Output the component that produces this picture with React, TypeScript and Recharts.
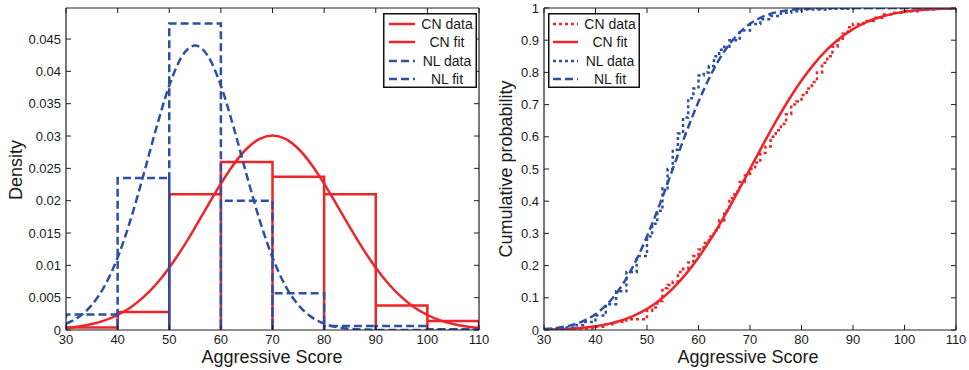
import React from "react";
import { LineChart, Line, XAxis, YAxis, Legend } from "recharts";

const RED = "#EE2428";
const BLUE = "#2D4FA3";
const AX = "#1e1e1e";
const TXT = "#1a1a1a";
const FONT = "'Liberation Sans', Arial, Helvetica, sans-serif";

// histogram bins (Aggressive Score)
const binEdges = [30, 40, 50, 60, 70, 80, 90, 100, 110];
const cnHist = [0.0004, 0.0028, 0.021, 0.026, 0.0237, 0.021, 0.0038, 0.0014];
const nlHist = [0.0024, 0.0235, 0.0474, 0.02, 0.0057, 0.0006, 0.0006, 0.0001];

// fitted curves, read every 2.5 points
const fitX = [
  30, 32.5, 35, 37.5, 40, 42.5, 45, 47.5, 50, 52.5, 55, 57.5, 60, 62.5, 65, 67.5, 70,
  72.5, 75, 77.5, 80, 82.5, 85, 87.5, 90, 92.5, 95, 97.5, 100, 102.5, 105, 107.5, 110,
];
const cnPdf = [
  0.00032, 0.00055, 0.00092, 0.00149, 0.00232, 0.00349, 0.00508, 0.00712, 0.00964, 0.01258,
  0.01586, 0.01929, 0.02264, 0.02565, 0.02803, 0.02957, 0.0301, 0.02957, 0.02803, 0.02565,
  0.02264, 0.01929, 0.01586, 0.01258, 0.00964, 0.00712, 0.00508, 0.00349, 0.00232, 0.00149,
  0.00092, 0.00055, 0.00032,
];
const nlPdf = [
  0.00099, 0.00203, 0.00387, 0.00684, 0.01121, 0.01702, 0.02396, 0.03126, 0.0378, 0.04236,
  0.044, 0.04236, 0.0378, 0.03126, 0.02396, 0.01702, 0.01121, 0.00684, 0.00387, 0.00203,
  0.00099, 0.00044, 0.00019, 0.00007, 0.00002, 0, 0, 0, 0, 0, 0, 0, 0,
];
const cnCdf = [
  0.0013, 0.0023, 0.0041, 0.0071, 0.0118, 0.019, 0.0296, 0.0448, 0.0656, 0.0933, 0.1288,
  0.1728, 0.2252, 0.2857, 0.353, 0.4251, 0.5, 0.5749, 0.647, 0.7143, 0.7748, 0.8272, 0.8712,
  0.9067, 0.9344, 0.9552, 0.9704, 0.981, 0.9882, 0.9929, 0.9959, 0.9977, 0.9987,
];
const nlCdf = [
  0.0029, 0.0066, 0.0137, 0.0269, 0.0491, 0.0841, 0.135, 0.2041, 0.2908, 0.3913, 0.5, 0.6087,
  0.7092, 0.7959, 0.865, 0.9159, 0.9509, 0.9731, 0.9863, 0.9935, 0.9971, 0.9988, 0.9996,
  0.9999, 1, 1, 1, 1, 1, 1, 1, 1, 1,
];

// empirical cdfs
const cnEcdfX = [
  30, 36, 40, 42, 44, 46, 50, 51, 52, 53, 54, 55, 56, 57, 58, 59, 60, 61, 62, 63, 64, 65, 66,
  67, 68, 69, 70, 71, 72, 73, 74, 75, 76, 77, 78, 79, 80, 81, 82, 83, 84, 85, 86, 87, 88, 89,
  90, 92, 94, 96, 98, 100, 103, 106, 110,
];
const cnEcdf = [
  0.002, 0.005, 0.01, 0.018, 0.025, 0.033, 0.06, 0.07, 0.09, 0.13, 0.14, 0.15, 0.18, 0.19,
  0.21, 0.23, 0.25, 0.27, 0.29, 0.31, 0.34, 0.37, 0.41, 0.43, 0.46, 0.48, 0.5, 0.52, 0.55,
  0.57, 0.6, 0.62, 0.64, 0.67, 0.7, 0.71, 0.73, 0.75, 0.77, 0.8, 0.83, 0.85, 0.88, 0.9, 0.92,
  0.94, 0.95, 0.96, 0.97, 0.98, 0.985, 0.99, 0.995, 0.998, 1,
];
const nlEcdfX = [
  30, 32, 34, 36, 38, 40, 42, 44, 46, 48, 50, 51, 52, 53, 54, 55, 56, 57, 58, 59, 60, 61, 62,
  63, 64, 65, 66, 68, 70, 72, 74, 76, 78, 80, 85, 90, 110,
];
const nlEcdf = [
  0, 0.003, 0.008, 0.015, 0.025, 0.045, 0.08, 0.12, 0.18, 0.23, 0.29, 0.33, 0.37, 0.44, 0.5,
  0.56, 0.61, 0.66, 0.72, 0.75, 0.79, 0.8, 0.82, 0.85, 0.87, 0.88, 0.9, 0.93, 0.95, 0.965,
  0.975, 0.985, 0.99, 0.995, 0.998, 1, 1,
];

const xTicks = [30, 40, 50, 60, 70, 80, 90, 100, 110];
const densityTicks = [0, 0.005, 0.01, 0.015, 0.02, 0.025, 0.03, 0.035, 0.04, 0.045];
const probTicks = [0, 0.1, 0.2, 0.3, 0.4, 0.5, 0.6, 0.7, 0.8, 0.9, 1];

const toPoints = (xs: number[], ys: number[]) => xs.map((x, i) => ({ x, y: ys[i] }));

// outline of each histogram bar as one polyline
function histOutline(edges: number[], heights: number[]) {
  const pts: { x: number; y: number }[] = [];
  heights.forEach((h, i) => {
    pts.push({ x: edges[i], y: 0 }, { x: edges[i], y: h }, { x: edges[i + 1], y: h }, { x: edges[i + 1], y: 0 });
  });
  return pts;
}

const DASH = "8 4";
const DOT = "3 3";

function frame(yDomain: number[], yTicks: number[], yWidth: number) {
  const tick = { fill: TXT, fontSize: 13, fontFamily: FONT };
  const blank = () => "";
  return [
    <XAxis key="x" xAxisId="x" type="number" dataKey="x" domain={[30, 110]} ticks={xTicks} interval={0}
      allowDataOverflow height={40} tickSize={0} tickMargin={5} tickLine={false}
      axisLine={{ stroke: AX, strokeWidth: 1.2 }} tick={tick} />,
    <XAxis key="xb" xAxisId="xb" type="number" dataKey="x" domain={[30, 110]} ticks={xTicks} interval={0}
      allowDataOverflow mirror tickSize={5} axisLine={false} tickLine={{ stroke: AX }} tickFormatter={blank} />,
    <XAxis key="xt" xAxisId="xt" orientation="top" type="number" dataKey="x" domain={[30, 110]} ticks={xTicks}
      interval={0} allowDataOverflow mirror tickSize={5} axisLine={{ stroke: AX, strokeWidth: 1.2 }}
      tickLine={{ stroke: AX }} tickFormatter={blank} />,
    <YAxis key="y" yAxisId="y" type="number" domain={yDomain} ticks={yTicks} interval={0} allowDataOverflow
      width={yWidth} tickSize={0} tickMargin={5} tickLine={false} axisLine={{ stroke: AX, strokeWidth: 1.2 }}
      tick={tick} />,
    <YAxis key="yl" yAxisId="yl" type="number" domain={yDomain} ticks={yTicks} interval={0} allowDataOverflow
      mirror tickSize={5} axisLine={false} tickLine={{ stroke: AX }} tickFormatter={blank} />,
    <YAxis key="yr" yAxisId="yr" orientation="right" type="number" domain={yDomain} ticks={yTicks} interval={0}
      allowDataOverflow mirror tickSize={5} axisLine={{ stroke: AX, strokeWidth: 1.2 }}
      tickLine={{ stroke: AX }} tickFormatter={blank} />,
  ];
}

type Item = { name: string; color: string; dash?: string };

function LegendBox({ items, width, sample }: { items: Item[]; width: number; sample: [number, number] }) {
  const rows = [11, 29, 48, 66];
  return (
    <svg width={width} height={75} style={{ display: "block" }}>
      <rect x={0.75} y={0.75} width={width - 1.5} height={73.5} fill="#fff" stroke="#111" strokeWidth={1.5} />
      {items.map((it, i) => (
        <g key={it.name}>
          <line x1={sample[0]} x2={sample[1]} y1={rows[i]} y2={rows[i]} stroke={it.color} strokeWidth={2.5}
            strokeDasharray={it.dash} />
          <text x={(sample[1] + width) / 2 + 1} y={rows[i]} dy="0.36em" textAnchor="middle" fontSize={14}
            fontFamily={FONT} fill={TXT}>
            {it.name}
          </text>
        </g>
      ))}
    </svg>
  );
}

const pdfLegend: Item[] = [
  { name: "CN data", color: RED },
  { name: "CN fit", color: RED },
  { name: "NL data", color: BLUE, dash: DASH },
  { name: "NL fit", color: BLUE, dash: DASH },
];
const cdfLegend: Item[] = [
  { name: "CN data", color: RED, dash: DOT },
  { name: "CN fit", color: RED },
  { name: "NL data", color: BLUE, dash: DOT },
  { name: "NL fit", color: BLUE, dash: DASH },
];

const lineProps = { xAxisId: "x", yAxisId: "y", dataKey: "y", dot: false, activeDot: false, isAnimationActive: false, strokeWidth: 2.5 } as const;

export default function App() {
  return (
    <div style={{ position: "absolute", left: 0, top: 0, width: 969, height: 370, background: "#fff", overflow: "hidden" }}>
      <div style={{ position: "absolute", left: 0, top: 0 }}>
        <LineChart width={490} height={370} margin={{ top: 8, right: 11, bottom: 0, left: 0 }}>
          {frame([0, 0.0498], densityTicks, 66)}
          <Line {...lineProps} data={histOutline(binEdges, cnHist)} type="linear" stroke={RED} strokeLinejoin="miter" name="CN data" />
          <Line {...lineProps} data={toPoints(fitX, cnPdf)} type="monotone" stroke={RED} name="CN fit" />
          <Line {...lineProps} data={histOutline(binEdges, nlHist)} type="linear" stroke={BLUE} strokeDasharray={DASH} strokeLinejoin="miter" name="NL data" />
          <Line {...lineProps} data={toPoints(fitX, nlPdf)} type="monotone" stroke={BLUE} strokeDasharray={DASH} name="NL fit" />
          <Legend layout="horizontal" verticalAlign="middle" align="center"
            wrapperStyle={{ position: "absolute", left: 383, top: 13, width: 94, height: 75 }}
            content={() => <LegendBox items={pdfLegend} width={94} sample={[6, 32]} />} />
          <text x={16} y={170} transform="rotate(-90 16 170)" textAnchor="middle" dy="0.36em" fontSize={18} fontFamily={FONT} fill={TXT}>
            Density
          </text>
          <text x={272} y={357} textAnchor="middle" dy="0.36em" fontSize={18} fontFamily={FONT} fill={TXT}>
            Aggressive Score
          </text>
        </LineChart>
      </div>
      <div style={{ position: "absolute", left: 480, top: 0 }}>
        <LineChart width={489} height={370} margin={{ top: 8, right: 13, bottom: 0, left: 0 }}>
          {frame([0, 1], probTicks, 64)}
          <Line {...lineProps} data={toPoints(cnEcdfX, cnEcdf)} type="stepAfter" stroke={RED} strokeDasharray={DOT} name="CN data" />
          <Line {...lineProps} data={toPoints(fitX, cnCdf)} type="monotone" stroke={RED} name="CN fit" />
          <Line {...lineProps} data={toPoints(nlEcdfX, nlEcdf)} type="stepAfter" stroke={BLUE} strokeDasharray={DOT} name="NL data" />
          <Line {...lineProps} data={toPoints(fitX, nlCdf)} type="monotone" stroke={BLUE} strokeDasharray={DASH} name="NL fit" />
          <Legend layout="horizontal" verticalAlign="middle" align="center"
            wrapperStyle={{ position: "absolute", left: 68, top: 13, width: 92, height: 75 }}
            content={() => <LegendBox items={cdfLegend} width={92} sample={[5, 30]} />} />
          <text x={26} y={169} transform="rotate(-90 26 169)" textAnchor="middle" dy="0.36em" fontSize={18} fontFamily={FONT} fill={TXT}>
            Cumulative probability
          </text>
          <text x={268} y={357} textAnchor="middle" dy="0.36em" fontSize={18} fontFamily={FONT} fill={TXT}>
            Aggressive Score
          </text>
        </LineChart>
      </div>
    </div>
  );
}
